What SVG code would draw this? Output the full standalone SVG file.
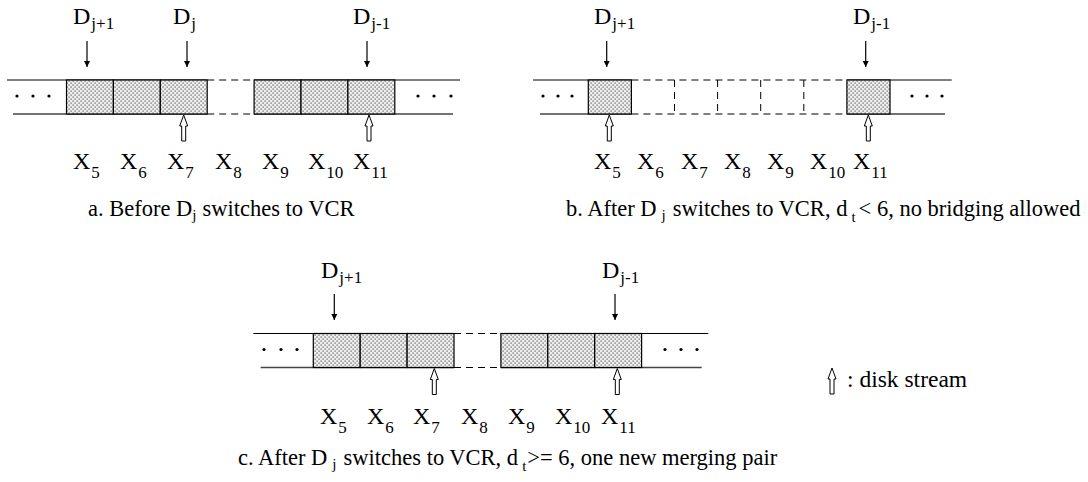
<svg xmlns="http://www.w3.org/2000/svg" width="1088" height="482" viewBox="0 0 1088 482">
  <style>
    text { font-family: "Liberation Serif", "Times New Roman", serif; fill: #000; }
    .lbl { font-size: 24px; }
    .sub { font-size: 17px; }
    .cap { font-size: 22.5px; }
    .csub { font-size: 15px; }
    .rail { stroke: #000; stroke-width: 1; fill: none; }
    .rail2 { stroke: #444; stroke-width: 1.6; fill: none; }
    .dash { stroke: #000; stroke-width: 1; stroke-dasharray: 7 5; fill: none; }
    .cell { fill: url(#stipple); stroke: #000; stroke-width: 1.2; }
    .ptr { stroke: #000; stroke-width: 1.2; marker-end: url(#head); }
    .disk { fill: #fff; stroke: #000; stroke-width: 1; }
  </style>
  <defs>
    <pattern id="stipple" width="4" height="4" patternUnits="userSpaceOnUse">
      <rect width="4" height="4" fill="#eeeeee"/>
      <rect x="0.5" y="0.5" width="1.2" height="1.2" fill="#555"/>
      <rect x="2.5" y="2.5" width="1.2" height="1.2" fill="#555"/>
    </pattern>
    <marker id="head" viewBox="0 0 10 10" refX="10" refY="5" markerWidth="6" markerHeight="7" orient="auto" markerUnits="userSpaceOnUse">
      <path d="M0,0 L10,5 L0,10 z" fill="#000"/>
    </marker>
    <!-- hollow disk-stream arrow, tip at origin -->
    <path id="hollow" d="M0,0 L4,11 L2,11 L2,26 L-2,26 L-2,11 L-4,11 Z"/>
    <circle id="dot" r="1.6" fill="#000"/>
  </defs>

  <!-- Panel a -->
  <g id="panel-a">
    <line class="rail" x1="7" y1="80" x2="207.2" y2="80"/>
    <line class="rail" x1="254.1" y1="80" x2="460" y2="80"/>
    <line class="rail2" x1="13" y1="114" x2="207.2" y2="114"/>
    <line class="rail2" x1="254.1" y1="114" x2="453" y2="114"/>
    <line class="dash" x1="207.2" y1="80" x2="254.1" y2="80"/>
    <line class="dash" x1="207.2" y1="114" x2="254.1" y2="114"/>
    <rect class="cell" x="66.5" y="80" width="46.9" height="34"/>
    <rect class="cell" x="113.4" y="80" width="46.9" height="34"/>
    <rect class="cell" x="160.3" y="80" width="46.9" height="34"/>
    <rect class="cell" x="254.1" y="80" width="46.9" height="34"/>
    <rect class="cell" x="301" y="80" width="46.9" height="34"/>
    <rect class="cell" x="347.9" y="80" width="46.9" height="34"/>
    <use href="#dot" x="17" y="96"/><use href="#dot" x="33" y="96"/><use href="#dot" x="49" y="96"/>
    <use href="#dot" x="418" y="96"/><use href="#dot" x="434" y="96"/><use href="#dot" x="451" y="96"/>
    <use href="#hollow" class="disk" x="183.7" y="115"/>
    <use href="#hollow" class="disk" x="369" y="115"/>
    <text class="lbl" x="73" y="169">X<tspan class="sub" dy="9" dx="1">5</tspan></text>
    <text class="lbl" x="120" y="169">X<tspan class="sub" dy="9" dx="1">6</tspan></text>
    <text class="lbl" x="167" y="169">X<tspan class="sub" dy="9" dx="1">7</tspan></text>
    <text class="lbl" x="215" y="169">X<tspan class="sub" dy="9" dx="1">8</tspan></text>
    <text class="lbl" x="262" y="169">X<tspan class="sub" dy="9" dx="1">9</tspan></text>
    <text class="lbl" x="308" y="169">X<tspan class="sub" dy="9" dx="1">10</tspan></text>
    <text class="lbl" x="353" y="169">X<tspan class="sub" dy="9" dx="1">11</tspan></text>
    <text class="cap" x="88" y="216">a. Before D<tspan class="csub" dy="4">j</tspan><tspan dy="-4" dx="6">switches to VCR</tspan></text>
  </g>

  <!-- Panel b -->
  <g id="panel-b">
    <line class="rail" x1="533" y1="80" x2="631.4" y2="80"/>
    <line class="rail" x1="846.9" y1="80" x2="951.7" y2="80"/>
    <line class="rail2" x1="540" y1="114" x2="631.4" y2="114"/>
    <line class="rail2" x1="846.9" y1="114" x2="945" y2="114"/>
    <line class="dash" x1="631.4" y1="80" x2="846.9" y2="80"/>
    <line class="dash" x1="631.4" y1="114" x2="846.9" y2="114"/>
    <line class="dash" x1="674.5" y1="80" x2="674.5" y2="114"/>
    <line class="dash" x1="717.6" y1="80" x2="717.6" y2="114"/>
    <line class="dash" x1="760.7" y1="80" x2="760.7" y2="114"/>
    <line class="dash" x1="803.8" y1="80" x2="803.8" y2="114"/>
    <rect class="cell" x="588.3" y="80" width="43.1" height="34"/>
    <rect class="cell" x="846.9" y="80" width="43.1" height="34"/>
    <use href="#dot" x="543" y="96"/><use href="#dot" x="558" y="96"/><use href="#dot" x="572" y="96"/>
    <use href="#dot" x="912" y="96"/><use href="#dot" x="927" y="96"/><use href="#dot" x="942" y="96"/>
    <use href="#hollow" class="disk" x="609.3" y="115"/>
    <use href="#hollow" class="disk" x="868.3" y="115"/>
    <text class="lbl" x="594" y="169">X<tspan class="sub" dy="9" dx="1">5</tspan></text>
    <text class="lbl" x="637" y="169">X<tspan class="sub" dy="9" dx="1">6</tspan></text>
    <text class="lbl" x="681" y="169">X<tspan class="sub" dy="9" dx="1">7</tspan></text>
    <text class="lbl" x="724" y="169">X<tspan class="sub" dy="9" dx="1">8</tspan></text>
    <text class="lbl" x="767" y="169">X<tspan class="sub" dy="9" dx="1">9</tspan></text>
    <text class="lbl" x="810" y="169">X<tspan class="sub" dy="9" dx="1">10</tspan></text>
    <text class="lbl" x="853" y="169">X<tspan class="sub" dy="9" dx="1">11</tspan></text>
    <text class="cap" x="566" y="216">b. After D<tspan class="csub" dy="4" dx="5">j</tspan><tspan dy="-4" dx="7">switches to VCR, d</tspan><tspan class="csub" dy="6" dx="4">t</tspan><tspan dy="-6" dx="3">&lt; 6, no bridging allowed</tspan></text>
  </g>

  <!-- Panel c -->
  <g id="panel-c">
    <line class="rail" x1="253.3" y1="333.5" x2="454" y2="333.5"/>
    <line class="rail" x1="500.9" y1="333.5" x2="708.3" y2="333.5"/>
    <line class="rail2" x1="260.7" y1="367.5" x2="454" y2="367.5"/>
    <line class="rail2" x1="500.9" y1="367.5" x2="701.7" y2="367.5"/>
    <line class="dash" x1="454" y1="333.5" x2="500.9" y2="333.5"/>
    <line class="dash" x1="454" y1="367.5" x2="500.9" y2="367.5"/>
    <rect class="cell" x="313.3" y="333.5" width="46.9" height="34"/>
    <rect class="cell" x="360.2" y="333.5" width="46.9" height="34"/>
    <rect class="cell" x="407.1" y="333.5" width="46.9" height="34"/>
    <rect class="cell" x="500.9" y="333.5" width="46.9" height="34"/>
    <rect class="cell" x="547.8" y="333.5" width="46.9" height="34"/>
    <rect class="cell" x="594.7" y="333.5" width="46.9" height="34"/>
    <use href="#dot" x="264" y="349.5"/><use href="#dot" x="281" y="349.5"/><use href="#dot" x="297" y="349.5"/>
    <use href="#dot" x="665" y="349.5"/><use href="#dot" x="681" y="349.5"/><use href="#dot" x="697" y="349.5"/>
    <use href="#hollow" class="disk" x="434.3" y="368.5"/>
    <use href="#hollow" class="disk" x="617.3" y="368.5"/>
    <text class="lbl" x="320" y="424">X<tspan class="sub" dy="9" dx="1">5</tspan></text>
    <text class="lbl" x="367" y="424">X<tspan class="sub" dy="9" dx="1">6</tspan></text>
    <text class="lbl" x="413" y="424">X<tspan class="sub" dy="9" dx="1">7</tspan></text>
    <text class="lbl" x="461" y="424">X<tspan class="sub" dy="9" dx="1">8</tspan></text>
    <text class="lbl" x="508" y="424">X<tspan class="sub" dy="9" dx="1">9</tspan></text>
    <text class="lbl" x="555" y="424">X<tspan class="sub" dy="9" dx="1">10</tspan></text>
    <text class="lbl" x="601" y="424">X<tspan class="sub" dy="9" dx="1">11</tspan></text>
    <text class="cap" x="238" y="465">c. After D<tspan class="csub" dy="4" dx="5">j</tspan><tspan dy="-4" dx="7">switches to VCR, d</tspan><tspan class="csub" dy="6" dx="4">t</tspan><tspan dy="-6" dx="1">&gt;= 6, one new merging pair</tspan></text>
  </g>

  <!-- Stream pointers D -->
  <g id="pointers">
    <text class="lbl" x="73" y="24">D<tspan class="sub" dy="5" dx="1">j+1</tspan></text>
    <text class="lbl" x="173" y="24">D<tspan class="sub" dy="5" dx="1">j</tspan></text>
    <text class="lbl" x="353" y="24">D<tspan class="sub" dy="5" dx="1">j-1</tspan></text>
    <text class="lbl" x="594" y="24">D<tspan class="sub" dy="5" dx="1">j+1</tspan></text>
    <text class="lbl" x="853" y="24">D<tspan class="sub" dy="5" dx="1">j-1</tspan></text>
    <text class="lbl" x="321" y="278">D<tspan class="sub" dy="5" dx="1">j+1</tspan></text>
    <text class="lbl" x="602" y="278">D<tspan class="sub" dy="5" dx="1">j-1</tspan></text>
  </g>

  <g id="connectors">
    <line class="ptr" x1="87" y1="41" x2="87" y2="67"/>
    <line class="ptr" x1="187" y1="41" x2="187" y2="67"/>
    <line class="ptr" x1="367" y1="41" x2="367" y2="67"/>
    <line class="ptr" x1="606.7" y1="41" x2="606.7" y2="67"/>
    <line class="ptr" x1="865.7" y1="41" x2="865.7" y2="67"/>
    <line class="ptr" x1="334.3" y1="294" x2="334.3" y2="320"/>
    <line class="ptr" x1="615" y1="294" x2="615" y2="320"/>
  </g>

  <!-- Legend -->
  <g id="legend">
    <use href="#hollow" class="disk" x="832" y="368"/>
    <text class="cap" x="847" y="387" style="font-size:23.5px">: disk stream</text>
  </g>
</svg>
